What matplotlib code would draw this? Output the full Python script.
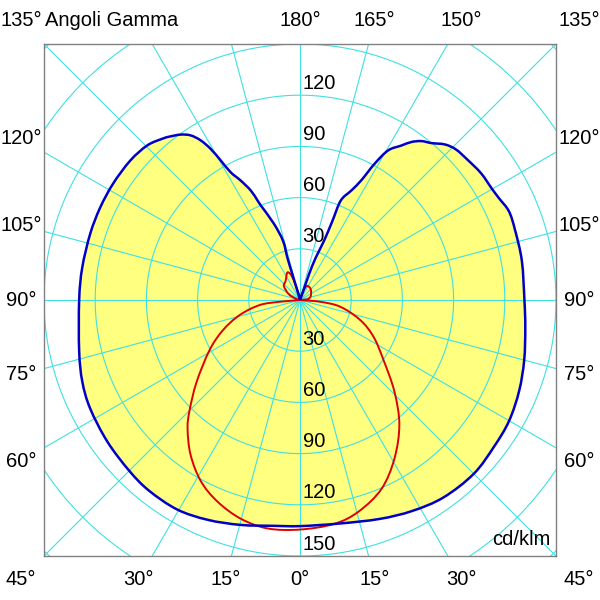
import numpy as np
import matplotlib.pyplot as plt
from matplotlib.path import Path
from matplotlib.patches import PathPatch

plt.rcParams['font.family'] = ['Liberation Sans', 'DejaVu Sans']

# blue curve (filled), intensity in cd/klm vs gamma angle (deg), right and left half
blue_right_gamma = [0, 10, 20, 28, 36, 45, 53, 60, 67.5, 75, 83, 90, 100, 108, 113,
                    117, 120, 125, 130, 134, 137, 140, 142.6, 144.8, 146.7, 149.5,
                    151.3, 152.9, 154.9, 157.7, 157.7, 157.9, 159.6, 160.7, 160, 160]
blue_right_cd = [132.5, 133, 136.5, 140, 143, 144, 142.5, 141.5, 139, 136, 133, 131.5,
                 132, 132.5, 133, 131, 130, 129.5, 128, 127, 124.6, 120, 117.2, 113.3,
                 108.3, 101.7, 91, 78.7, 70.8, 63, 50, 37.5, 26.5, 16, 5.7, 0]
blue_left_gamma = [0, 6.6, 14.8, 22.8, 30.4, 38.4, 45, 53.7, 62.7, 69.5, 77, 90, 98.4,
                   107.5, 114.8, 121.9, 129.4, 135.4, 139.8, 141.6, 144.2, 146.4, 148.1,
                   149.4, 150.4, 151.5, 153.6, 155.8, 156.9, 157.5, 161.1, 164, 163.4,
                   163.5, 164, 164]
blue_left_cd = [132.5, 133.2, 136.3, 139.7, 142.3, 142.5, 141.5, 140.1, 138.4, 136.2,
                132.8, 129.4, 129, 128.9, 129, 129, 128.7, 127.3, 124, 122.3, 119.5,
                115.8, 110.2, 102.9, 94, 85.2, 78.1, 70.3, 63.3, 59.9, 47.3, 36, 26,
                15.8, 5.5, 0]

# red curve (outline only)
red_right_gamma = [0, 8.7, 15.4, 23.3, 30.8, 38.6, 45.9, 54.2, 63.4, 71.6, 80.5, 85, 90,
                   95, 110, 135, 152, 160, 168, 180]
red_right_cd = [134.5, 132.7, 128.7, 120.6, 108.1, 93.3, 77, 60.4, 48.2, 37.2, 23.9,
                11.8, 0, 4.4, 6.7, 8.9, 9.3, 6.7, 2, 0]
red_left_gamma = [0, 8, 15.1, 22.2, 28.7, 35.3, 41.2, 45, 51.5, 61, 68.6, 76,
                  82.9, 85, 90, 105, 117, 131, 143, 155, 160, 162.5, 168, 175, 180]
red_left_cd = [134.5, 135.2, 132.8, 127.7, 121, 111, 100, 91.5, 77.5, 60.6, 48.5,
               36.4, 23.7, 11.8, 0, 2, 7.3, 12.5, 14, 17.7, 16, 11.7, 4, 0.5, 0]

rings = [30, 60, 90, 120, 150, 180, 210]
ring_labels_up = [30, 60, 90, 120]
ring_labels_down = [30, 60, 90, 120, 150]
bottom_angles = [-45, -30, -15, 0, 15, 30, 45]
side_angles = [60, 75, 90, 105, 120]
top_right_angles = [180, 165, 150]


def to_xy(gamma, cd, side):
    g = np.radians(gamma)
    r = np.asarray(cd, dtype=float)
    return side * r * np.sin(g), -r * np.cos(g)


def closed_curve(rg, rc, lg, lc):
    xr, yr = to_xy(rg, rc, 1)
    xl, yl = to_xy(lg, lc, -1)
    pts = np.column_stack([np.concatenate([xr[::-1], xl[1:]]),
                           np.concatenate([yr[::-1], yl[1:]])])
    # drop repeated points (the centre appears twice)
    keep = np.r_[True, np.any(np.diff(pts, axis=0) != 0, axis=1)]
    return pts[keep]


def smooth_path(pts):
    # Catmull-Rom through the read points, as cubic bezier segments
    n = len(pts)
    verts = [pts[0]]
    codes = [Path.MOVETO]
    for i in range(n - 1):
        p0 = pts[max(i - 1, 0)]
        p1 = pts[i]
        p2 = pts[i + 1]
        p3 = pts[min(i + 2, n - 1)]
        verts += [p1 + (p2 - p0) / 6, p2 - (p3 - p1) / 6, p2]
        codes += [Path.CURVE4] * 3
    return Path(verts, codes)


fig = plt.figure(figsize=(6, 6), dpi=100)
ax = fig.add_axes([44 / 600, 44 / 600, 512 / 600, 512 / 600])
ax.set_xlim(-150, 150)
ax.set_ylim(-150, 150)
ax.set_aspect('equal')
ax.set_xticks([])
ax.set_yticks([])
for s in ax.spines.values():
    s.set_color('#808080')
    s.set_linewidth(1.0)

grid_color = '#40E0E0'

blue_path = smooth_path(closed_curve(blue_right_gamma, blue_right_cd,
                                     blue_left_gamma, blue_left_cd))
ax.add_patch(PathPatch(blue_path, facecolor='#FFFF80', edgecolor='none', zorder=1))

t = np.linspace(0, 2 * np.pi, 400)
for r in rings:
    ax.plot(r * np.cos(t), r * np.sin(t), color=grid_color, lw=0.8, zorder=2)
for a in range(0, 360, 15):
    ar = np.radians(a)
    ax.plot([0, 260 * np.cos(ar)], [0, 260 * np.sin(ar)], color=grid_color, lw=0.8, zorder=2)

red_path = smooth_path(closed_curve(red_right_gamma, red_right_cd,
                                    red_left_gamma, red_left_cd))
ax.add_patch(PathPatch(red_path, facecolor='none', edgecolor='#DD0000', lw=1.4, zorder=3))
ax.add_patch(PathPatch(blue_path, facecolor='none', edgecolor='#0000C8', lw=1.8, zorder=4))

fs = 14.5
L = 163.5
for r in ring_labels_up:
    ax.text(1.5, r + 7, str(r), fontsize=fs, ha='left', va='center', zorder=5)
for r in ring_labels_down:
    ax.text(1.5, -r + 7, str(r), fontsize=fs, ha='left', va='center', zorder=5)

for a in bottom_angles:
    ax.text(L * np.tan(np.radians(a)), -L, f"{abs(a)}°", fontsize=fs,
            ha='center', va='center', clip_on=False)
for g in side_angles:
    yy = -L / np.tan(np.radians(g))
    for side in (-1, 1):
        ax.text(side * L, yy, f"{g}°", fontsize=fs, ha='center', va='center', clip_on=False)
for g in top_right_angles:
    ax.text(L * np.tan(np.radians(180 - g)), L, f"{g}°", fontsize=fs,
            ha='center', va='center', clip_on=False)
ax.text(-L, L, "135°", fontsize=fs, ha='center', va='center', clip_on=False)
ax.text(L, L, "135°", fontsize=fs, ha='center', va='center', clip_on=False)
ax.text(-149.4, L, "Angoli Gamma", fontsize=fs, ha='left', va='center', clip_on=False)
ax.text(146.5, -140.6, "cd/klm", fontsize=fs, ha='right', va='center', zorder=5)

fig.savefig('out.png', dpi=100)
